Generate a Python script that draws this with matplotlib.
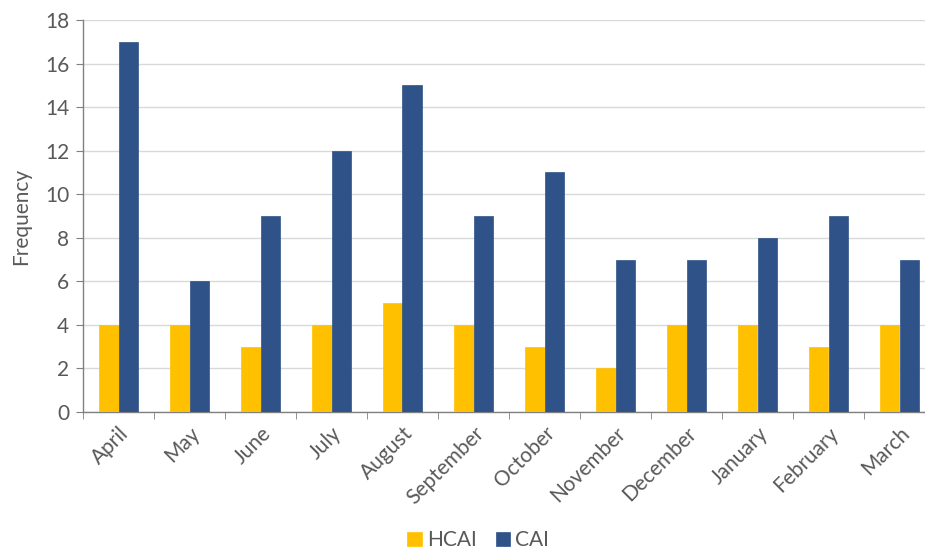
import numpy as np
import matplotlib
matplotlib.use("Agg")
import matplotlib.pyplot as plt
from matplotlib.ticker import FixedLocator

months = ['April', 'May', 'June', 'July', 'August', 'September', 'October',
          'November', 'December', 'January', 'February', 'March']
hcai = [4, 4, 3, 4, 5, 4, 3, 2, 4, 4, 3, 4]
cai = [17, 6, 9, 12, 15, 9, 11, 7, 7, 8, 9, 7]

plt.rcParams['font.family'] = ['Lato', 'DejaVu Sans']
text_col = '#595959'
fs = 15

fig = plt.figure(figsize=(9.25, 5.55), dpi=100)
# plot area runs slightly past the right edge, as in the reference
ax = fig.add_axes([83 / 925, 1 - 412 / 555, 852 / 925, 392 / 555])

x = np.arange(len(months))
w = 0.28
ax.bar(x - w / 2, hcai, w, color='#FFC000', label='HCAI', zorder=3,
       edgecolor='#FFC000', linewidth=0.5)
ax.bar(x + w / 2, cai, w, color='#2F5289', label='CAI', zorder=3,
       edgecolor='#2F5289', linewidth=0.5)

ax.set_xlim(-0.5, len(months) - 0.5)
ax.set_ylim(0, 18)
ax.set_yticks(range(0, 19, 2))
ax.yaxis.grid(True, color='#D9D9D9', linewidth=1, zorder=0)

ax.set_xticks(x)
ax.set_xticklabels(months, rotation=45, ha='right', rotation_mode='anchor')
ax.xaxis.set_minor_locator(FixedLocator(np.arange(-0.5, len(months), 1)))
ax.tick_params(axis='x', which='major', length=0, pad=8)
ax.tick_params(axis='x', which='minor', length=5, color='#808080')
ax.tick_params(axis='y', length=5, color='#808080', pad=5)
ax.tick_params(labelsize=fs, labelcolor=text_col)

for s in ['top', 'right']:
    ax.spines[s].set_visible(False)
for s in ['left', 'bottom']:
    ax.spines[s].set_color('#808080')
    ax.spines[s].set_linewidth(1)

ax.set_ylabel('Frequency', fontsize=fs, color=text_col, labelpad=10)

fig.legend(loc='lower center', bbox_to_anchor=(0.517, -0.025), ncol=2,
           frameon=False, fontsize=fs, labelcolor=text_col,
           handlelength=0.7, handleheight=0.7, handletextpad=0.25,
           columnspacing=0.9)

fig.savefig('out.png', dpi=100)
